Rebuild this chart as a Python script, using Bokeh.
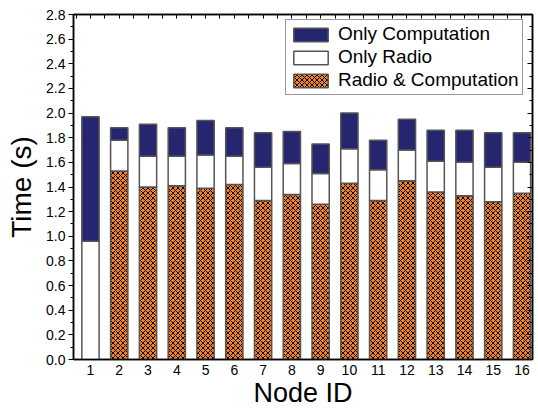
from bokeh.plotting import figure
from bokeh.models import (ColumnDataSource, FixedTicker, LinearAxis, Legend,
                          LegendItem, Range1d)
from bokeh.embed import file_html
from bokeh.resources import INLINE

# Per-node timing breakdown (seconds), stacked bottom to top
node_ids = list(range(1, 17))
radio_and_comp = [0.00, 1.53, 1.40, 1.41, 1.39, 1.42, 1.29, 1.34,
                  1.26, 1.43, 1.29, 1.45, 1.36, 1.33, 1.28, 1.35]
only_radio = [0.96, 0.25, 0.25, 0.24, 0.27, 0.23, 0.27, 0.25,
              0.25, 0.28, 0.25, 0.25, 0.25, 0.27, 0.28, 0.25]
only_comp = [1.01, 0.10, 0.26, 0.23, 0.28, 0.23, 0.28, 0.26,
             0.24, 0.29, 0.24, 0.25, 0.25, 0.26, 0.28, 0.24]
y_ticks = [0.0, 0.2, 0.4, 0.6, 0.8, 1.0, 1.2, 1.4, 1.6, 1.8, 2.0, 2.2, 2.4, 2.6, 2.8]
y_minor = [i / 10 for i in range(0, 29)]

FONT = "Liberation Sans"
BLUE = "#25266f"
ORANGE = "#f5801f"
EDGE = "#555555"

source = ColumnDataSource(data=dict(
    node=node_ids, rc=radio_and_comp, radio=only_radio, comp=only_comp))

p = figure(width=538, height=411, output_backend="svg", toolbar_location=None,
           x_range=Range1d(0.41, 16.365), y_range=Range1d(0, 2.8),
           min_border_left=73, min_border_right=6, min_border_top=14,
           min_border_bottom=52)
p.background_fill_color = "white"
p.border_fill_color = "white"
p.outline_line_color = "black"
p.outline_line_width = 1.5
p.xgrid.visible = False
p.ygrid.visible = False

renderers = p.vbar_stack(
    ["rc", "radio", "comp"], x="node", width=0.6, source=source,
    fill_color=[ORANGE, "white", BLUE],
    hatch_pattern=["x", " ", " "],
    hatch_color="black", hatch_scale=5, hatch_weight=1,
    line_color=EDGE, line_width=1.5)

# left axis
ya = p.yaxis[0]
ya.ticker = FixedTicker(ticks=y_ticks, minor_ticks=y_minor)
ya.major_label_overrides = {t: f"{t:.1f}" for t in y_ticks}
ya.axis_label = "Time (s)"
ya.axis_label_text_font = FONT
ya.axis_label_text_font_size = "28px"
ya.axis_label_text_font_style = "normal"
ya.axis_label_text_color = "black"
ya.axis_label_standoff = 6
ya.major_label_text_font = FONT
ya.major_label_text_font_size = "14px"
ya.major_label_text_color = "black"
ya.major_label_standoff = 3
ya.major_tick_out = 5
ya.major_tick_in = 0
ya.minor_tick_out = 3
ya.minor_tick_in = 0
ya.axis_line_width = 1.5
ya.major_tick_line_width = 1.2

# bottom axis
xa = p.xaxis[0]
xa.ticker = FixedTicker(ticks=node_ids)
xa.axis_label = "Node ID"
xa.axis_label_text_font = FONT
xa.axis_label_text_font_size = "27px"
xa.axis_label_text_font_style = "normal"
xa.axis_label_text_color = "black"
xa.axis_label_standoff = 0
xa.major_label_text_font = FONT
xa.major_label_text_font_size = "14px"
xa.major_label_text_color = "black"
xa.major_label_standoff = 5
xa.major_tick_out = 0
xa.major_tick_in = 0
xa.minor_tick_out = 0
xa.minor_tick_in = 0
xa.axis_line_width = 1.5

# right and top frame axes: inward ticks only, no labels
ra = LinearAxis(ticker=FixedTicker(ticks=y_ticks, minor_ticks=y_minor),
                major_label_text_font_size="1px", major_label_text_color=None,
                major_label_standoff=0,
                major_tick_in=5, major_tick_out=0,
                minor_tick_in=3, minor_tick_out=0, axis_line_width=1.5)
p.add_layout(ra, "right")
ta = LinearAxis(ticker=FixedTicker(ticks=[i / 2 for i in range(1, 34)]),
                major_label_text_font_size="1px", major_label_text_color=None,
                major_label_standoff=0,
                major_tick_in=4, major_tick_out=0,
                minor_tick_in=0, minor_tick_out=0, axis_line_width=1.5)
p.add_layout(ta, "above")

legend = Legend(items=[
    LegendItem(label="Only Computation", renderers=[renderers[2]]),
    LegendItem(label="Only Radio", renderers=[renderers[1]]),
    LegendItem(label="Radio & Computation", renderers=[renderers[0]]),
], location=(212, 264))
legend.label_text_font = FONT
legend.label_text_font_size = "19px"
legend.label_text_color = "black"
legend.glyph_width = 43
legend.glyph_height = 17
legend.label_height = 17
legend.label_standoff = 6
legend.spacing = 1
legend.padding = 3
legend.margin = 0
legend.border_line_color = "#333333"
legend.border_line_width = 1.5
legend.background_fill_alpha = 1.0
p.add_layout(legend, "center")

open("out.html", "w").write(file_html(p, INLINE))
